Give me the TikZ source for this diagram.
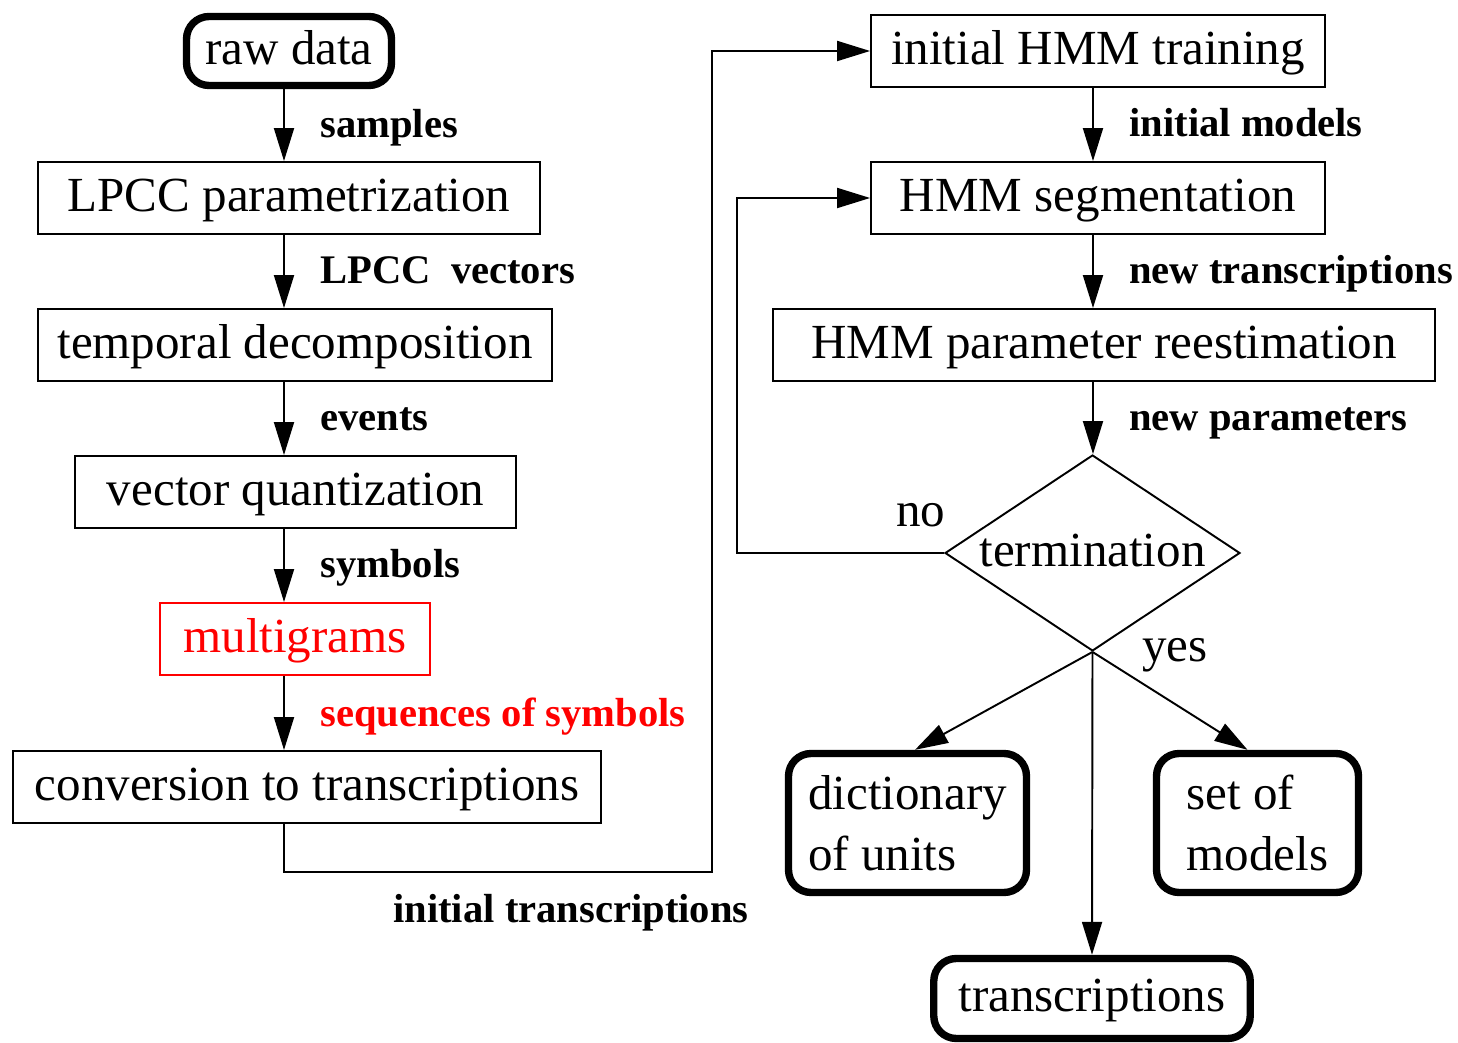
\documentclass[tikz,border=0pt]{standalone}
\usepackage{fontspec}
\setmainfont{Liberation Serif}
\usetikzlibrary{arrows.meta,shapes.geometric}
\begin{document}
\begin{tikzpicture}[x=0.02cm,y=-0.02cm,
    every node/.style={font=\fontsize{27.9pt}{34.7pt}\selectfont},
    box/.style={draw,line width=1.1pt,minimum height=1.44cm,inner sep=0pt,text height=22pt,text depth=7pt},
    endbox/.style={draw,line width=4.2pt,rounded corners=0.45cm,inner sep=0pt},
    oneline/.style={text height=22pt,text depth=7pt},
    lbl/.style={anchor=base west,inner sep=0pt,font=\fontsize{23.1pt}{28pt}\selectfont\bfseries},
    arr/.style={line width=1.1pt,-{Triangle[length=0.66cm,width=0.4cm]}}]
      \useasboundingbox (0,0) rectangle (1458,1043);
      \coordinate (colL) at (284,0);
      \coordinate (colR) at (1093,0);
      \node[endbox,oneline,minimum width=4.1cm,minimum height=1.38cm] (raw) at (289,51) {raw data};
      \node[box,minimum width=10.04cm] (lpcc) at (289,198) {LPCC parametrization};
      \node[box,minimum width=10.28cm] (temp) at (295,345) {temporal decomposition};
      \node[box,minimum width=8.82cm] (vq) at (295.5,492) {vector quantization};
      \node[box,minimum width=5.4cm,draw=red,text=red] (multi) at (295,639) {multigrams};
      \node[box,minimum width=11.76cm] (conv) at (307,787) {conversion to transcriptions};
      \node[box,minimum width=9.08cm] (init) at (1098,51) {initial HMM training};
      \node[box,minimum width=9.08cm] (seg) at (1098,198) {HMM segmentation};
      \node[box,minimum width=13.24cm] (reest) at (1104,345) {HMM parameter reestimation};
      \node[draw,diamond,aspect=1.5,line width=1.1pt,inner sep=0pt,text height=20pt,text depth=5pt,
            minimum width=5.9cm,minimum height=3.92cm] (check) at (1092.5,553) {termination};
      \node[endbox,align=left,minimum width=4.76cm,minimum height=2.78cm] (dict) at (907.5,823) {dictionary\\of units};
      \node[endbox,align=left,minimum width=4.04cm,minimum height=2.78cm] (models) at (1257.5,823) {set of\\models};
      \node[endbox,oneline,minimum width=6.33cm,minimum height=1.6cm] (trans) at (1092,998.5) {transcriptions};
      \foreach \a/\b in {raw/lpcc,lpcc/temp,temp/vq,vq/multi,multi/conv}
        \draw[arr] (\a.south -| colL) -- (\b.north -| colL);
      \foreach \a/\b in {init/seg,seg/reest,reest/check}
        \draw[arr] (\a.south -| colR) -- (\b.north -| colR);
      \coordinate (bus) at (712,872);
      \draw[arr] (conv.south -| colL) |- (bus) |- (init.west);
      \coordinate (back) at (737,553);
      \draw[arr] (check.west) -- (back) |- (seg.west);
      \draw[arr] (check.south) -- ([xshift=0.15cm]dict.north);
      \draw[arr] (check.south) -- ([xshift=-0.2cm]models.north);
      \draw[arr] (check.south) -- (trans.north);
      \node[lbl] (lsamples) at (320,138) {samples};
      \node[lbl] (lvectors) at (320,284) {LPCC\ \ vectors};
      \node[lbl] (levents) at (320,431) {events};
      \node[lbl] (lsymbols) at (320,578) {symbols};
      \node[lbl,text=red] (lseq) at (320,726) {sequences of symbols};
      \node[lbl] (linit) at (393,922) {initial transcriptions};
      \node[lbl] (lmodels) at (1129,137) {initial models};
      \node[lbl] (lnewtr) at (1129,284) {new transcriptions};
      \node[lbl] (lnewpar) at (1129,431) {new parameters};
      \node[anchor=base west,inner sep=0pt] (lno) at (896,527) {no};
      \node[anchor=base west,inner sep=0pt] (lyes) at (1142,662) {yes};
\end{tikzpicture}
\end{document}
